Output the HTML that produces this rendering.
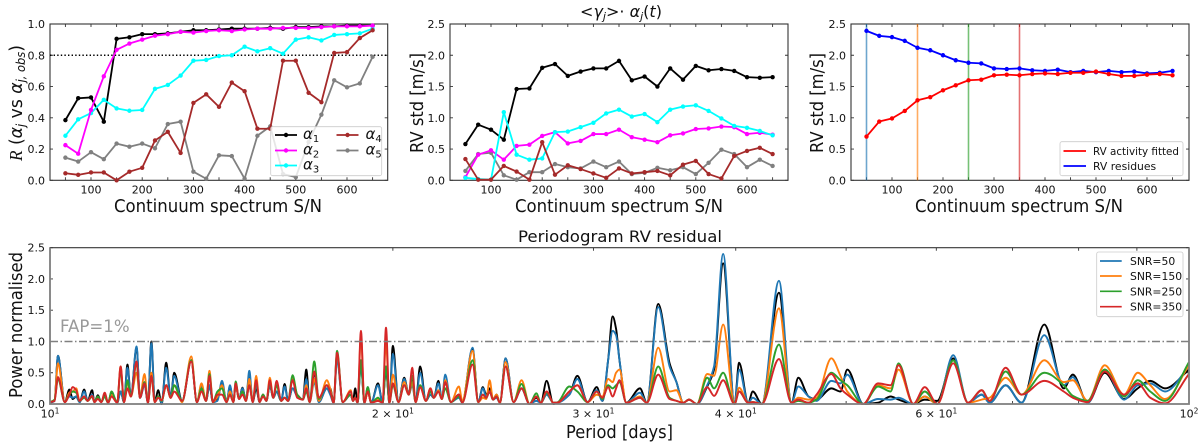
<!DOCTYPE html>
<html lang="en">
<head>
<meta charset="utf-8">
<title>RV activity charts</title>
<style>
html,body{margin:0;padding:0;background:#fff;width:1200px;height:444px;overflow:hidden}
svg{display:block;filter:blur(0.35px)}
text{font-family:"DejaVu Sans","Liberation Sans",sans-serif;fill:#111}
.tick{font-size:11px}
.lab{font-size:18px}
.leg{font-size:10.8px}
.math{font-style:italic;font-size:15px}
</style>
</head>
<body>
<svg id="chart" xmlns="http://www.w3.org/2000/svg" width="1200" height="444" viewBox="0 0 1200 444">
  <g id="layer-panels"></g>

  <!-- Axis titles -->
  <text x="218" y="212" class="lab" text-anchor="middle" textLength="208" lengthAdjust="spacingAndGlyphs">Continuum spectrum S/N</text>
  <text x="619" y="212" class="lab" text-anchor="middle" textLength="208" lengthAdjust="spacingAndGlyphs">Continuum spectrum S/N</text>
  <text x="1019" y="212" class="lab" text-anchor="middle" textLength="208" lengthAdjust="spacingAndGlyphs">Continuum spectrum S/N</text>
  <text x="619.5" y="438" class="lab" text-anchor="middle" textLength="107" lengthAdjust="spacingAndGlyphs">Period [days]</text>

  <text transform="translate(22,103) rotate(-90)" class="lab" text-anchor="middle" textLength="116" lengthAdjust="spacingAndGlyphs"><tspan font-family="Liberation Serif" font-style="italic">R</tspan> (<tspan font-style="italic">α</tspan><tspan font-style="italic" font-size="12" dy="3">j</tspan><tspan dy="-3"> vs </tspan><tspan font-style="italic">α</tspan><tspan font-style="italic" font-size="12" dy="3">j, obs</tspan><tspan dy="-3">)</tspan></text>
  <text transform="translate(423,103) rotate(-90)" class="lab" text-anchor="middle" textLength="100" lengthAdjust="spacingAndGlyphs">RV std [m/s]</text>
  <text transform="translate(823,103) rotate(-90)" class="lab" text-anchor="middle" textLength="100" lengthAdjust="spacingAndGlyphs">RV std [m/s]</text>
  <text transform="translate(22,325) rotate(-90)" class="lab" text-anchor="middle" textLength="146" lengthAdjust="spacingAndGlyphs">Power normalised</text>

  <!-- Titles -->
  <text x="621" y="17" font-size="16" text-anchor="middle">&lt;<tspan font-style="italic">γ</tspan><tspan font-style="italic" font-size="11" dy="3">j</tspan><tspan dy="-3">&gt;· </tspan><tspan font-style="italic">α</tspan><tspan font-style="italic" font-size="11" dy="3">j</tspan><tspan dy="-3">(</tspan><tspan font-style="italic">t</tspan>)</text>
  <text x="620" y="242" font-size="16" text-anchor="middle" textLength="204" lengthAdjust="spacingAndGlyphs">Periodogram RV residual</text>
  <text x="60" y="332" font-size="16.6" style="fill:#999">FAP=1%</text>

  <!-- Legend: correlation panel -->
  <g>
    <rect x="270.7" y="126.7" width="111" height="49" rx="2" fill="#fff" fill-opacity="0.8" stroke="#ccc" stroke-width="0.8"/>
    <g><line x1="275" x2="297" y1="135" y2="135" stroke="#000" stroke-width="1.8"/><circle cx="286" cy="135" r="2.2" fill="#000"/><text x="303" y="139" class="math">α<tspan font-size="10" dy="3" font-style="normal">1</tspan></text></g>
    <g><line x1="275" x2="297" y1="150.5" y2="150.5" stroke="#f0f" stroke-width="1.8"/><circle cx="286" cy="150.5" r="2.2" fill="#f0f"/><text x="303" y="154.5" class="math">α<tspan font-size="10" dy="3" font-style="normal">2</tspan></text></g>
    <g><line x1="275" x2="297" y1="165.5" y2="165.5" stroke="#0ff" stroke-width="1.8"/><circle cx="286" cy="165.5" r="2.2" fill="#0ff"/><text x="303" y="169.5" class="math">α<tspan font-size="10" dy="3" font-style="normal">3</tspan></text></g>
    <g><line x1="336.5" x2="358.5" y1="135" y2="135" stroke="#a52a2a" stroke-width="1.8"/><circle cx="347.5" cy="135" r="2.2" fill="#a52a2a"/><text x="365.5" y="139" class="math">α<tspan font-size="10" dy="3" font-style="normal">4</tspan></text></g>
    <g><line x1="336.5" x2="358.5" y1="150.5" y2="150.5" stroke="#808080" stroke-width="1.8"/><circle cx="347.5" cy="150.5" r="2.2" fill="#808080"/><text x="365.5" y="154.5" class="math">α<tspan font-size="10" dy="3" font-style="normal">5</tspan></text></g>
  </g>

  <!-- Legend: residues panel -->
  <g>
    <rect x="1060" y="141.7" width="123" height="34" rx="2" fill="#fff" fill-opacity="0.8" stroke="#ccc" stroke-width="0.8"/>
    <g><line x1="1063.5" x2="1086" y1="151" y2="151" stroke="#f00" stroke-width="1.8"/><text x="1093" y="155" class="leg" textLength="86" lengthAdjust="spacingAndGlyphs">RV activity fitted</text></g>
    <g><line x1="1063.5" x2="1086" y1="166" y2="166" stroke="#00f" stroke-width="1.8"/><text x="1093" y="170" class="leg">RV residues</text></g>
  </g>

  <!-- Legend: periodogram -->
  <g>
    <rect x="1096.7" y="252" width="86.3" height="64.7" rx="2" fill="#fff" fill-opacity="0.8" stroke="#ccc" stroke-width="0.8"/>
    <g><line x1="1100" x2="1121.7" y1="261" y2="261" stroke="#1f77b4" stroke-width="1.7"/><text x="1130" y="265" class="leg">SNR=50</text></g>
    <g><line x1="1100" x2="1121.7" y1="276" y2="276" stroke="#ff7f0e" stroke-width="1.7"/><text x="1130" y="280" class="leg">SNR=150</text></g>
    <g><line x1="1100" x2="1121.7" y1="291.3" y2="291.3" stroke="#2ca02c" stroke-width="1.7"/><text x="1130" y="295.3" class="leg">SNR=250</text></g>
    <g><line x1="1100" x2="1121.7" y1="306.7" y2="306.7" stroke="#d62728" stroke-width="1.7"/><text x="1130" y="310.7" class="leg">SNR=350</text></g>
  </g>
</svg>

<script>
// ---- Data: S/N panels ----
const snrValues = [50,75,100,125,150,175,200,225,250,275,300,325,350,375,400,425,450,475,500,525,550,575,600,625,650];
const snrTicks = [50,100,150,200,250,300,350,400,450,500,550,600,650];
const snrTickLabels = ['100','200','300','400','500','600'];
const correlationTicks = [0,0.2,0.4,0.6,0.8,1.0];
const rvTicks = [0,0.5,1.0,1.5,2.0,2.5];
const faintThreshold = [0.8];

const corrAlpha1 = [.385,.525,.53,.375,.905,.915,.935,.935,.94,.95,.96,.96,.965,.97,.97,.97,.975,.97,.98,.98,.985,.985,.99,.99,.99];
const corrAlpha2 = [.225,.17,.45,.665,.835,.875,.90,.925,.935,.95,.945,.955,.96,.955,.965,.97,.97,.975,.975,.975,.98,.985,.985,.985,.99];
const corrAlpha3 = [.285,.39,.43,.515,.46,.445,.45,.585,.61,.67,.765,.77,.795,.80,.855,.825,.845,.81,.90,.915,.895,.93,.935,.94,.97];
const corrAlpha4 = [.045,.035,.05,.05,0,.055,.08,.255,.31,.175,.495,.55,.47,.625,.57,.33,.33,.765,.765,.56,.50,.815,.82,.91,.96];
const corrAlpha5 = [.145,.12,.18,.135,.235,.215,.235,.205,.36,.375,.055,.01,.16,.155,.01,.285,.345,.04,.02,.245,.42,.64,.595,.62,.79];

const rvAlpha1 = [.58,.89,.81,.65,1.46,1.47,1.80,1.86,1.67,1.74,1.79,1.79,1.91,1.60,1.66,1.50,1.79,1.61,1.83,1.76,1.78,1.75,1.65,1.64,1.65];
const rvAlpha2 = [.05,.41,.48,.33,.55,.57,.71,.77,.59,.63,.74,.74,.81,.69,.65,.61,.72,.75,.82,.83,.86,.85,.74,.76,.73];
const rvAlpha3 = [.04,.02,.01,1.09,.41,.33,.35,.77,.78,.85,.92,1.07,1.13,1.02,1.06,.93,1.13,1.18,1.20,1.11,.99,.87,.84,.79,.72];
const rvAlpha4 = [.34,.01,.01,.23,.14,.01,.61,.09,.24,.18,.11,.04,.19,.11,.13,.15,.08,.25,.31,.10,.03,.39,.47,.52,.42];
const rvAlpha5 = [.15,.42,.44,.08,.01,.13,.13,.26,.21,.19,.30,.21,.30,.10,.12,.20,.16,.21,.10,.28,.49,.42,.21,.33,.23];

const rvActivityFitted = [.70,.94,.99,1.11,1.28,1.33,1.44,1.52,1.60,1.61,1.68,1.69,1.68,1.70,1.71,1.70,1.72,1.72,1.74,1.70,1.67,1.67,1.69,1.70,1.68];
const rvResidues = [2.39,2.31,2.29,2.23,2.12,2.08,2.00,1.92,1.88,1.87,1.79,1.78,1.79,1.76,1.75,1.77,1.73,1.75,1.73,1.75,1.73,1.74,1.71,1.72,1.75];
const snrMarkers = [50,150,250,350];

// ---- Data: periodogram (log10 of period in days, and power at each) ----
const logPeriod = [
1.000,1.004,1.007,1.013,1.017,1.020,1.023,1.026,1.030,1.033,
1.037,1.039,1.042,1.045,1.048,1.051,1.054,1.059,1.062,1.065,
1.068,1.071,1.076,1.079,1.083,1.086,1.089,1.092,1.095,1.098,
1.102,1.106,1.109,1.116,1.124,1.129,1.133,1.137,1.140,1.143,
1.147,1.151,1.155,1.158,1.161,1.163,1.166,1.169,1.172,1.175,
1.178,1.181,1.184,1.187,1.190,1.193,1.196,1.199,1.203,1.206,
1.209,1.213,1.217,1.222,1.225,1.228,1.232,1.236,1.243,1.246,
1.249,1.252,1.257,1.264,1.266,1.268,1.270,1.273,1.276,1.279,
1.282,1.288,1.292,1.295,1.298,1.301,1.306,1.311,1.315,1.318,
1.321,1.325,1.330,1.334,1.337,1.341,1.344,1.347,1.352,1.359,
1.362,1.371,1.376,1.380,1.383,1.386,1.389,1.392,1.395,1.400,
1.407,1.414,1.421,1.427,1.431,1.436,1.442,1.445,1.456,1.463,
1.472,1.480,1.485,1.490,1.494,1.497,1.500,1.506,1.518,1.524,
1.534,1.544,1.550,1.556,1.561,1.568,1.577,1.583,1.591,1.601,
1.605,1.613,1.617,1.625,1.640,1.651,1.657,1.666,1.673,1.686,
1.694,1.700,1.714,1.727,1.738,1.745,1.758,1.768,1.779,1.793,
1.806,1.818,1.825,1.839,1.853,1.873,1.890,1.898,1.911,1.926,
1.943,1.955,1.966,1.979,2.000];
const powerBlack = [
.02,.05,.77,.03,.23,.08,.12,.03,.23,.05,
.22,.03,.14,.03,.15,.02,.18,.02,.20,.03,
.63,.12,.90,.10,.33,.02,1.0,.03,.22,0,
.66,.10,.50,.05,.70,.03,.25,.05,.30,.03,
.08,.33,.03,.28,.03,.30,.08,.26,.05,.45,
.03,.25,.03,.15,.05,.30,.10,.20,.05,.32,
.05,.25,.15,.07,.55,.03,.50,.03,.25,.25,
.02,.75,.03,.15,.05,.25,.02,.65,.02,.20,
.02,.33,.02,.55,.02,.93,.03,.42,.15,.40,
.03,.60,.05,.15,.10,.37,.08,.35,.03,.15,
.02,.88,.03,.27,.15,.25,.07,.15,.02,.73,
.03,.25,0,.10,.02,.37,0,.02,.15,.45,
.03,.27,.05,.70,1.40,1.20,.70,.02,.25,.02,
1.60,.65,.35,.02,.07,0,.28,.55,2.25,0,
.66,.02,.20,0,1.78,.02,.42,.12,.07,.25,
.20,.55,0,.02,.12,.07,0,.07,.05,.73,
.02,.15,.02,.30,.02,1.27,.25,.47,.02,.50,
.08,.25,.37,.25,.55];
const powerSnr50 = [
.02,.05,.77,.03,.12,.10,.12,.03,.20,.05,
.15,.03,.10,.03,.12,.02,.15,.02,.20,.03,
.58,.12,.92,.10,.30,.02,.97,.03,.12,.02,
.58,.10,.45,.03,.70,.03,.30,.05,.30,.03,
.05,.37,.03,.30,.03,.30,.08,.25,.05,.53,
.03,.30,.03,.15,.05,.30,.10,.20,.05,.28,
.05,.25,.12,.07,.40,.03,.35,.03,.25,.15,
.02,.70,.03,.15,.05,.10,.02,.65,.02,.27,
.02,.30,.02,.60,.02,.80,.03,.40,.15,.30,
.03,.50,.05,.15,.10,.33,.08,.47,.03,.10,
.02,.90,.03,.25,.12,.20,.07,.10,.02,.73,
.03,.25,0,.05,.02,.15,.02,.02,.15,.40,
.03,.22,.05,.70,1.17,1.10,.70,.02,.18,.02,
1.55,.60,.35,.02,.07,0,.30,.60,2.40,0,
.55,.02,.10,0,1.97,.02,.28,.12,.05,.37,
.33,.47,0,.08,.07,.10,0,.12,0,.78,
.02,.15,.02,.30,.02,1.10,.30,.43,.02,.55,
.07,.30,.33,.20,.60];
const powerSnr150 = [
.03,.07,.65,.03,.18,.20,.25,.05,.12,.05,
.12,.03,.12,.03,.12,.02,.15,.02,.60,.03,
.35,.12,.50,.12,.48,.02,.50,.03,.12,.05,
.30,.10,.30,.03,.76,.03,.33,.05,.53,.03,
.12,.30,.03,.20,.03,.30,.08,.20,.05,.40,
.03,.45,.03,.15,.05,.42,.10,.30,.05,.10,
.05,.42,.15,.07,.30,.03,.40,.05,.38,.25,
.02,.80,.03,.22,.05,.10,.02,1.10,.02,.20,
.02,.08,.02,1.00,.02,.47,.03,.35,.15,.35,
.03,.30,.05,.25,.10,.22,.08,.38,.03,.28,
.05,.85,.03,.10,.08,.38,.07,.15,.02,.67,
.03,.38,0,.12,.02,.20,.02,.02,.20,.30,
.03,.15,.12,.40,.35,.50,.55,.02,.12,.02,
.90,.20,.22,.02,.07,0,.48,.45,1.27,0,
.26,.02,.03,0,1.53,.02,.10,.07,.10,.73,
.45,.20,0,.30,.25,.55,0,.12,0,.70,
.02,.07,.10,.42,.15,.70,.35,.38,.05,.62,
.15,.50,.30,.08,.62];
const powerSnr250 = [
.03,.07,.40,.03,.15,.20,.18,.05,.10,.05,
.12,.03,.12,.03,.12,.02,.20,.02,.55,.03,
.38,.12,.65,.10,.35,.02,.45,.03,.12,.05,
.30,.10,.30,.05,.70,.03,.25,.05,.48,.03,
.20,.25,.03,.15,.03,.36,.08,.20,.05,.30,
.03,.35,.03,.15,.05,.35,.10,.30,.05,.10,
.05,.46,.15,.07,.20,.03,.68,.08,.30,.20,
.02,.85,.03,.15,.05,.10,.02,.70,.02,.27,
.02,.10,.02,.60,.02,.30,.03,.30,.15,.45,
.03,.30,.05,.20,.10,.20,.08,.25,.03,.12,
.02,.70,.03,.15,.10,.20,.07,.12,.02,.60,
.03,.32,0,.17,.02,.18,.02,.02,.28,.20,
.03,.20,.08,.30,.25,.30,.35,.02,.10,.02,
.60,.10,.05,.02,.07,0,.42,.25,.50,0,
.20,.02,.03,0,.95,.02,.05,.02,.07,.50,
.38,.30,0,.28,.20,.65,0,.20,0,.70,
.02,.22,.05,.52,.15,.50,.30,.13,.05,.55,
.12,.38,.20,.05,.67];
const powerSnr350 = [
.03,.05,.43,.03,.15,.27,.22,.05,.12,.05,
.13,.03,.08,.03,.18,.02,.12,.02,.60,.03,
.25,.12,.68,.10,.33,.02,.45,.03,.10,.06,
.30,.10,.20,.05,.68,.03,.20,.05,.45,.03,
.15,.15,.03,.15,.03,.33,.08,.15,.05,.30,
.03,.38,.03,.12,.05,.38,.10,.37,.05,.10,
.05,.38,.10,.07,.25,.03,.52,.10,.30,.20,
.02,.82,.03,.20,.05,.10,.02,1.17,.02,.20,
.02,.05,.02,1.22,.02,.33,.03,.30,.15,.58,
.03,.27,.05,.25,.10,.20,.08,.35,.03,.15,
.02,.63,.03,.15,.10,.20,.07,.12,.02,.60,
.03,.25,0,.12,.02,.20,.02,.02,.20,.30,
.03,.20,.10,.27,.12,.25,.38,.02,.10,.02,
.47,.08,.05,.02,.07,0,.27,.13,.38,0,
.20,.02,.03,0,.72,.02,.07,.02,.15,.48,
.25,.15,0,.33,.30,.62,0,.27,0,.65,
.02,.22,.05,.58,.15,.37,.20,.10,.03,.52,
.15,.33,.10,.01,.48];
const powerTicks = [0,0.5,1.0,1.5,2.0,2.5];
const falseAlarmLevel = [1.0];
const periodMajorTicks = [10,20,30,40,60,100];
const periodMinorTicks = [50,70,80,90];

// ---- Rendering helpers ----
const NS = 'http://www.w3.org/2000/svg';
const layer = document.getElementById('layer-panels');
function make(parent, tag, attrs) {
  const el = document.createElementNS(NS, tag);
  for (const k in attrs) el.setAttribute(k, attrs[k]);
  parent.appendChild(el);
  return el;
}
function linear(d0, d1, r0, r1) { return v => r0 + (v - d0) * (r1 - r0) / (d1 - d0); }
function monotonePath(xs, ys) {
  const n = Math.min(xs.length, ys.length);
  const h = [], s = [], t = [];
  for (let i = 0; i < n - 1; i++) { h[i] = xs[i+1] - xs[i]; s[i] = (ys[i+1] - ys[i]) / h[i]; }
  t[0] = s[0]; t[n-1] = s[n-2];
  for (let i = 1; i < n - 1; i++) {
    if (s[i-1] * s[i] <= 0) t[i] = 0;
    else {
      const a = (h[i-1] + 2*h[i]) / 3 / (h[i-1] + h[i]);
      const b = (2*h[i-1] + h[i]) / 3 / (h[i-1] + h[i]);
      t[i] = 1 / (a / s[i-1] + b / s[i]);
    }
  }
  let d = 'M' + xs[0].toFixed(2) + ' ' + ys[0].toFixed(2);
  for (let i = 0; i < n - 1; i++) {
    d += 'C' + (xs[i] + h[i]/3).toFixed(2) + ' ' + (ys[i] + t[i]*h[i]/3).toFixed(2) + ' ' +
         (xs[i+1] - h[i]/3).toFixed(2) + ' ' + (ys[i+1] - t[i+1]*h[i]/3).toFixed(2) + ' ' +
         xs[i+1].toFixed(2) + ' ' + ys[i+1].toFixed(2);
  }
  return d;
}

function drawFrame(g, box, yScale, yTicks, xTickPositions) {
  const frame = make(g, 'rect', {x: box.l, y: box.t, width: box.r - box.l, height: box.b - box.t, fill: 'none', stroke: '#333', 'stroke-width': 1.1});
  
  
  yTicks.forEach(v => {
    const y = yScale(v);
    const tickL = make(g, 'path', {d: `M${box.l} ${y}h3M${box.r} ${y}h-3`, stroke: '#333', 'stroke-width': 0.9, fill: 'none'});
    
    
    const label = make(g, 'text', {x: box.l - 5, y: y + 4, 'text-anchor': 'end', class: 'tick'});
    label.textContent = v.toFixed(1);
    
    
  });
  xTickPositions.forEach(x => {
    const tickX = make(g, 'path', {d: `M${x} ${box.b}v-3M${x} ${box.t}v3`, stroke: '#333', 'stroke-width': 0.9, fill: 'none'});
    
    
  });
}

function drawSnrPanel(name, box, yMax, yTicks) {
  const g = make(layer, 'g', {});
  
  
  const xScale = linear(100, 600, box.x100, box.x600);
  const yScale = linear(0, yMax, box.b, box.t);
  drawFrame(g, box, yScale, yTicks, snrTicks.map(xScale));
  snrTickLabels.forEach(t => {
    const label = make(g, 'text', {x: xScale(+t), y: box.b + 13, 'text-anchor': 'middle', class: 'tick'});
    label.textContent = t;
    
    
  });
  return {g, xScale, yScale};
}

function drawSeries(g, xScale, yScale, s) {
  const sg = make(g, 'g', {});
  
  
  const pts = s.values.map((v, i) => xScale(snrValues[i]).toFixed(2) + ',' + yScale(v).toFixed(2)).join(' ');
  const line = make(sg, 'polyline', {points: pts, fill: 'none', stroke: s.color, 'stroke-width': 1.8, 'stroke-linejoin': 'round'});
  
  
  s.values.forEach((v, i) => {
    const dot = make(sg, 'circle', {cx: xScale(snrValues[i]), cy: yScale(v), r: 2.2, fill: s.color});
    
    
  });
}

// ---- Panel 1 ----
(function () {
  const p = drawSnrPanel('correlation', {l: 50, r: 387.7, t: 24, b: 180.3, x100: 91, x600: 347}, 1.0, correlationTicks);
  const thresholdLine = make(p.g, 'line', {x1: 50, x2: 387.7, y1: p.yScale(faintThreshold[0]), y2: p.yScale(faintThreshold[0]), stroke: '#000', 'stroke-width': 1.4, 'stroke-dasharray': '1.4 2.2'});
  
  
  drawSeries(p.g, p.xScale, p.yScale, {name: 'correlation-alpha-1', color: '#000', values: corrAlpha1});
  drawSeries(p.g, p.xScale, p.yScale, {name: 'correlation-alpha-5', color: '#808080', values: corrAlpha5});
  drawSeries(p.g, p.xScale, p.yScale, {name: 'correlation-alpha-3', color: '#0ff', values: corrAlpha3});
  drawSeries(p.g, p.xScale, p.yScale, {name: 'correlation-alpha-4', color: '#a52a2a', values: corrAlpha4});
  drawSeries(p.g, p.xScale, p.yScale, {name: 'correlation-alpha-2', color: '#f0f', values: corrAlpha2});
})();

// ---- Panel 2 ----
(function () {
  const p = drawSnrPanel('components', {l: 450, r: 788, t: 24, b: 180.3, x100: 491, x600: 747}, 2.5, rvTicks);
  drawSeries(p.g, p.xScale, p.yScale, {name: 'rv-alpha-5', color: '#808080', values: rvAlpha5});
  drawSeries(p.g, p.xScale, p.yScale, {name: 'rv-alpha-1', color: '#000', values: rvAlpha1});
  drawSeries(p.g, p.xScale, p.yScale, {name: 'rv-alpha-2', color: '#f0f', values: rvAlpha2});
  drawSeries(p.g, p.xScale, p.yScale, {name: 'rv-alpha-3', color: '#0ff', values: rvAlpha3});
  drawSeries(p.g, p.xScale, p.yScale, {name: 'rv-alpha-4', color: '#a52a2a', values: rvAlpha4});
})();

// ---- Panel 3 ----
(function () {
  const p = drawSnrPanel('residues', {l: 851, r: 1189, t: 24, b: 180.3, x100: 892, x600: 1147}, 2.5, rvTicks);
  const markerColors = ['#1f77b4','#ff7f0e','#2ca02c','#d62728'];
  snrMarkers.forEach((s, i) => {
    const v = make(p.g, 'line', {x1: p.xScale(s), x2: p.xScale(s), y1: 24, y2: 180.3, stroke: markerColors[i], 'stroke-width': 1.6, 'stroke-opacity': 0.65});
    
    
  });
  drawSeries(p.g, p.xScale, p.yScale, {name: 'rv-residues', color: '#00f', values: rvResidues});
  drawSeries(p.g, p.xScale, p.yScale, {name: 'rv-activity-fitted', color: '#f00', values: rvActivityFitted});
})();

// ---- Panel 4: periodogram ----
(function () {
  const box = {l: 50, r: 1189, t: 247.7, b: 404};
  const xLog = linear(1, 2, box.l, box.r);
  const yScale = linear(0, 2.5, box.b, box.t);
  const g = make(layer, 'g', {});
  
  
  const allTicks = periodMajorTicks.concat(periodMinorTicks).map(p => xLog(Math.log10(p)));
  drawFrame(g, box, yScale, powerTicks, allTicks);

  const series = [
    {name: 'periodogram-all', color: '#000', values: powerBlack},
    {name: 'periodogram-snr-50', color: '#1f77b4', values: powerSnr50},
    {name: 'periodogram-snr-150', color: '#ff7f0e', values: powerSnr150},
    {name: 'periodogram-snr-250', color: '#2ca02c', values: powerSnr250},
    {name: 'periodogram-snr-350', color: '#d62728', values: powerSnr350}
  ];
  const xs = logPeriod.map(xLog);
  series.forEach(s => {
    const path = make(g, 'path', {d: monotonePath(xs, s.values.map(yScale)), fill: 'none', stroke: s.color, 'stroke-width': 1.9, 'stroke-linejoin': 'round'});
    
    
  });

  const fap = make(g, 'line', {x1: box.l, x2: box.r, y1: yScale(falseAlarmLevel[0]), y2: yScale(falseAlarmLevel[0]), stroke: '#808080', 'stroke-width': 1.5, 'stroke-dasharray': '8 2.5 1.5 2.5'});
  
  

  const zeroLine = make(g, 'path', {d: `M${box.l} ${box.t}V${box.b}H${box.r}V${box.t}`, fill: 'none', stroke: '#808080', 'stroke-width': 1.8});
  
  

  periodMajorTicks.forEach(p => {
    const x = xLog(Math.log10(p));
    const lead = Math.floor(p / 10);
    const label = make(g, 'text', {x: x, y: 417.5, 'text-anchor': 'middle', class: 'tick'});
    
    
    const isPow = p === 10 || p === 100;
    const base = make(label, 'tspan', {});
    base.textContent = isPow ? '10' : lead + ' × 10';
    const sup = make(label, 'tspan', {dy: -4, 'font-size': 7.5});
    sup.textContent = p === 100 ? '2' : '1';
  });
})();
</script>
</body>
</html>
